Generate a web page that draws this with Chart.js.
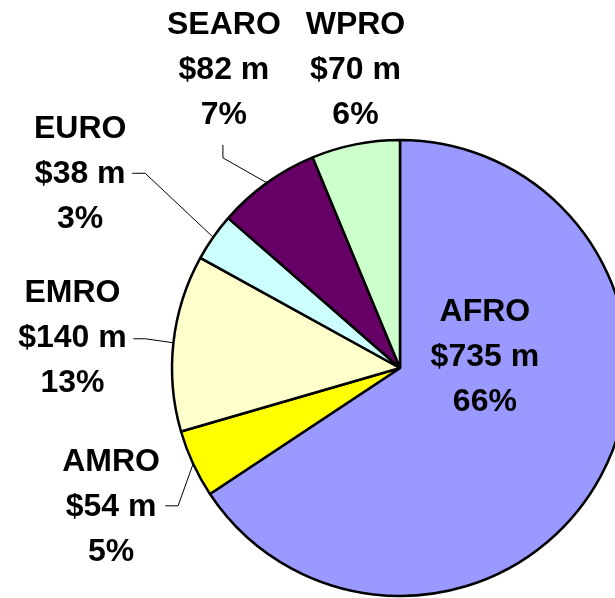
<!DOCTYPE html>
<html>
<head>
<meta charset="utf-8">
<script src="https://cdn.jsdelivr.net/npm/chart.js@4/dist/chart.umd.min.js"></script>
<style>
  html, body { margin: 0; padding: 0; background: #fff; }
  #wrap { width: 615px; height: 598px; overflow: hidden; position: relative; }
  #chart { position: absolute; left: 0; top: 0; }
</style>
</head>
<body>
<div id="wrap"><canvas id="chart" width="800" height="736"></canvas></div>
<script>
// Datos del gráfico
const regions = ['AFRO', 'AMRO', 'EMRO', 'EURO', 'SEARO', 'WPRO'];
const amounts = [735, 54, 140, 38, 82, 70]; // millones de dólares
const sliceColors = ['#9999FF', '#FFFF00', '#FFFFCC', '#CCFFFF', '#660066', '#CCFFCC'];

// Posición de cada etiqueta respecto al punto medio del borde de su porción
// text: centro de la línea central; leader: codo y final de la línea guía
const labelLayout = {
  AFRO:  { text: [-116, -119] },
  AMRO:  { text: [-82, 43],   leader: [[-15, 42], [-28, 42]] },
  EMRO:  { text: [-101, -5],  leader: [[-28, -4], [-40, -4]] },
  EURO:  { text: [-133, -63], leader: [[-68, -64], [-81, -64]] },
  SEARO: { text: [-43, -113], leader: [[-44, -25], [-44, -38]] },
  WPRO:  { text: [0, -74] }
};

const total = amounts.reduce((a, b) => a + b, 0);

/**
 * Dibuja las etiquetas y líneas guía de cada porción
 */
const pieLabels = {
  id: 'pieLabels',
  afterDatasetsDraw(chart) {
    const ctx = chart.ctx;
    const arcs = chart.getDatasetMeta(0).data;
    ctx.save();
    ctx.font = 'bold 32px "Liberation Sans", Arial, sans-serif';
    ctx.fillStyle = '#000';
    ctx.textAlign = 'center';
    ctx.textBaseline = 'middle';
    ctx.strokeStyle = '#000';
    ctx.lineWidth = 1;

    arcs.forEach((arc, i) => {
      const layout = labelLayout[regions[i]];
      const mid = (arc.startAngle + arc.endAngle) / 2;
      const ax = arc.x + Math.cos(mid) * arc.outerRadius;
      const ay = arc.y + Math.sin(mid) * arc.outerRadius;

      // Línea guía
      if (layout.leader) {
        ctx.beginPath();
        ctx.moveTo(ax, ay);
        layout.leader.forEach(p => ctx.lineTo(ax + p[0], ay + p[1]));
        ctx.stroke();
      }

      // Texto de la etiqueta
      const pct = Math.round(amounts[i] / total * 100);
      const lines = [regions[i], '$' + amounts[i] + ' m', pct + '%'];
      const cx = ax + layout.text[0];
      const cy = ay + layout.text[1];
      lines.forEach((t, k) => ctx.fillText(t, cx, cy + (k - 1) * 45));
    });
    ctx.restore();
  }
};

new Chart(document.getElementById('chart'), {
  type: 'pie',
  data: {
    labels: regions,
    datasets: [{
      data: amounts,
      backgroundColor: sliceColors,
      borderColor: '#000',
      borderWidth: 2.5
    }]
  },
  options: {
    responsive: false,
    animation: false,
    radius: 228,
    plugins: {
      legend: { display: false },
      tooltip: { enabled: false }
    }
  },
  plugins: [pieLabels]
});
</script>
</body>
</html>
